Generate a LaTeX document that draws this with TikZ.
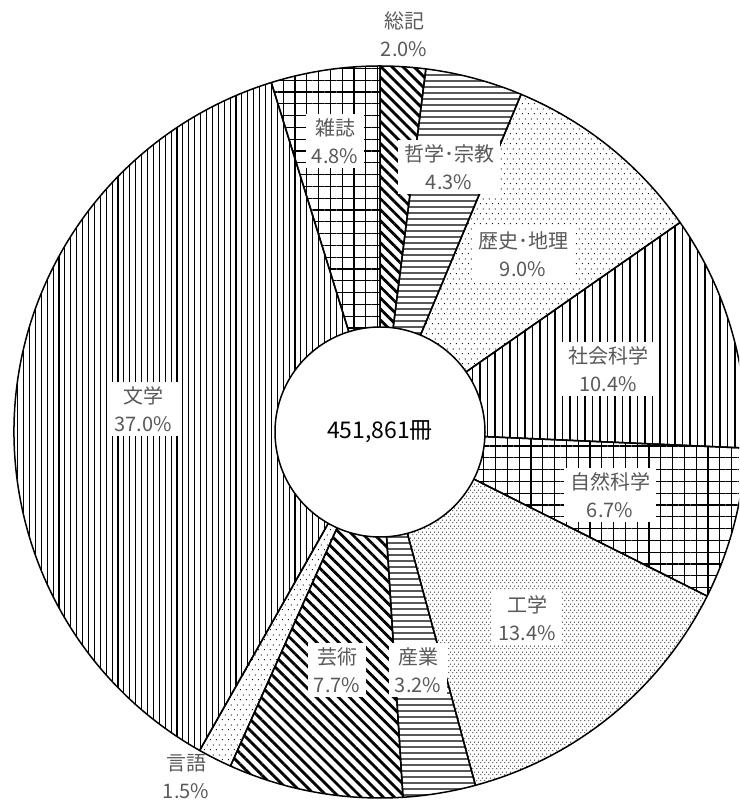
\documentclass[tikz,border=0pt]{standalone}
\usepackage{fontspec}
\newfontfamily\jpfont{Noto Sans CJK JP}
\usetikzlibrary{patterns.meta}
\definecolor{lblgray}{HTML}{595959}

\tikzdeclarepattern{
  name=sparsedots,
  type=uncolored,
  bottom left={(0pt,0pt)},
  top right={(5.8pt,9.6pt)},
  tile size={(5.8pt,9.6pt)},
  code={
    \fill (1.45pt,2.4pt) circle (0.65pt);
    \fill (4.35pt,7.2pt) circle (0.65pt);
  }
}
\tikzdeclarepattern{
  name=densedots,
  type=uncolored,
  bottom left={(0pt,0pt)},
  top right={(4pt,6pt)},
  tile size={(4pt,6pt)},
  code={
    \fill (1pt,1.5pt) circle (0.65pt);
    \fill (3pt,4.5pt) circle (0.65pt);
  }
}

\begin{document}
\begin{tikzpicture}[x=1pt,y=1pt,
  sector/.style={draw=black, line width=1.5pt, line join=round},
  wdiag/.style={pattern={Lines[angle=-45, distance=7.8pt, line width=2.8pt]}},
  hlines/.style={pattern={Lines[angle=0, distance=6.4pt, line width=1.4pt]}},
  vlines/.style={pattern={Lines[angle=90, distance=7.5pt, line width=1.3pt]}},
  vlinesdense/.style={pattern={Lines[angle=90, distance=5.9pt, line width=1.1pt]}},
  gridpat/.style={pattern={Hatch[angle=0, distance=11.8pt, line width=1.3pt]}},
  sdots/.style={pattern=sparsedots},
  ddots/.style={pattern=densedots},
  lbl/.style={fill=white, text=lblgray, font=\jpfont\fontsize{20}{28}\selectfont,
    align=center, inner xsep=6pt, inner ysep=4pt},
  outlbl/.style={text=lblgray, font=\jpfont\fontsize{20}{28}\selectfont,
    align=center, inner sep=2pt},
  hubstyle/.style={circle, draw=black, line width=1.5pt, fill=white,
    minimum size=210pt, inner sep=0pt, font=\jpfont\fontsize{23}{28}\selectfont}
]
\useasboundingbox (0,0) rectangle (739,800);
\clip (0,0) rectangle (739,800);
\coordinate (C) at (380,368);

% sectors (clockwise from top)
\path[sector, wdiag]       (C) -- ++(90:366pt)     arc[start angle=90,     end angle=82.8,    radius=366pt] -- cycle;
\path[sector, hlines]      (C) -- ++(82.8:366pt)   arc[start angle=82.8,   end angle=67.32,   radius=366pt] -- cycle;
\path[sector, sdots]       (C) -- ++(67.32:366pt)  arc[start angle=67.32,  end angle=34.92,   radius=366pt] -- cycle;
\path[sector, vlines]      (C) -- ++(34.92:366pt)  arc[start angle=34.92,  end angle=-2.52,   radius=366pt] -- cycle;
\path[sector, gridpat]     (C) -- ++(-2.52:366pt)  arc[start angle=-2.52,  end angle=-26.64,  radius=366pt] -- cycle;
\path[sector, ddots]       (C) -- ++(-26.64:366pt) arc[start angle=-26.64, end angle=-74.88,  radius=366pt] -- cycle;
\path[sector, hlines]      (C) -- ++(-74.88:366pt) arc[start angle=-74.88, end angle=-86.4,   radius=366pt] -- cycle;
\path[sector, wdiag]       (C) -- ++(-86.4:366pt)  arc[start angle=-86.4,  end angle=-114.12, radius=366pt] -- cycle;
\path[sector, sdots]       (C) -- ++(-114.12:366pt) arc[start angle=-114.12, end angle=-119.52, radius=366pt] -- cycle;
\path[sector, vlinesdense] (C) -- ++(-119.52:366pt) arc[start angle=-119.52, end angle=-252.72, radius=366pt] -- cycle;
\path[sector, gridpat]     (C) -- ++(-252.72:366pt) arc[start angle=-252.72, end angle=-270,  radius=366pt] -- cycle;

% centre
\node[hubstyle] (hub) at (C) {451,861冊};

% labels
\node[outlbl] (soki)     at (404,766) {総記\\2.0\%};
\node[lbl]    (zasshi)   at (335,659) {雑誌\\4.8\%};
\node[lbl]    (tetsu)    at (449,633) {哲学･宗教\\4.3\%};
\node[lbl]    (rekishi)  at (523,546) {歴史･地理\\9.0\%};
\node[lbl]    (shakai)   at (608,431) {社会科学\\10.4\%};
\node[lbl]    (shizen)   at (610,305) {自然科学\\6.7\%};
\node[lbl]    (kogaku)   at (527,182) {工学\\13.4\%};
\node[lbl]    (sangyo)   at (418,130) {産業\\3.2\%};
\node[lbl]    (geijutsu) at (337,130) {芸術\\7.7\%};
\node[outlbl] (gengo)    at (186,23)  {言語\\1.5\%};
\node[lbl]    (bungaku)  at (143,391) {文学\\37.0\%};
\end{tikzpicture}
\end{document}
